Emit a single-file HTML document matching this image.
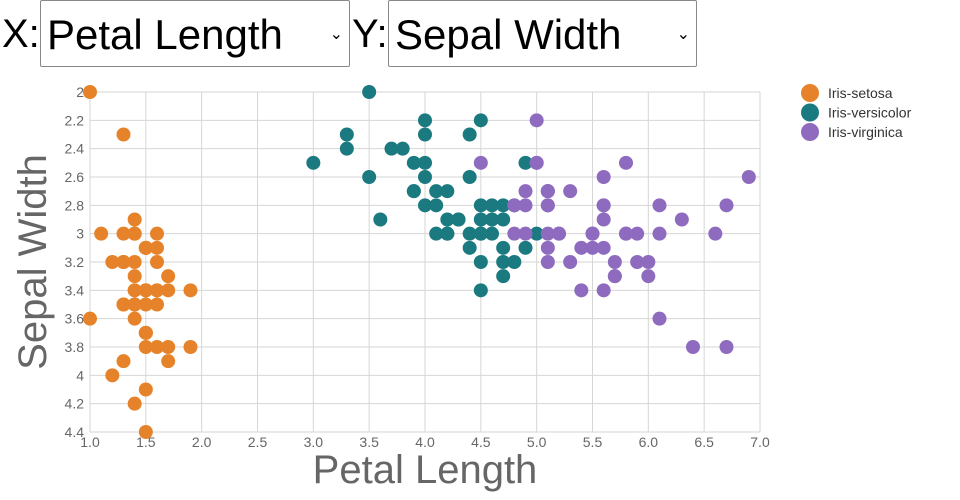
<!DOCTYPE html>
<html><head><meta charset="utf-8"><style>
body{margin:0;width:960px;height:500px;overflow:hidden;background:#fff;font-family:"Liberation Sans",sans-serif;}
.hdr{position:absolute;top:0;left:0;height:70px;}
.lab{position:absolute;font-size:40px;top:12px;color:#000}
.sel{position:absolute;top:0;height:67px;border:1px solid #888;border-radius:2px;background:#fff;font-size:42px;line-height:67px;padding-left:6px;box-sizing:border-box;}
.sel span.arr{position:absolute;right:6px;top:0;font-size:16px;}
</style></head><body>
<div class="lab" style="left:2px">X:</div>
<div class="sel" style="left:40px;width:310px">Petal Length<span class="arr">⌄</span></div>
<div class="lab" style="left:352px">Y:</div>
<div class="sel" style="left:388px;width:309px">Sepal Width<span class="arr">⌄</span></div>
<svg id="c" width="960" height="500" style="position:absolute;top:0;left:0"></svg>
<script>
const xTicks=[1.0,1.5,2.0,2.5,3.0,3.5,4.0,4.5,5.0,5.5,6.0,6.5,7.0];
const yTicks=[2,2.2,2.4,2.6,2.8,3,3.2,3.4,3.6,3.8,4,4.2,4.4];
const species=["Iris-setosa","Iris-versicolor","Iris-virginica"];
const colors=["#e6832a","#1b7a80","#8e6bbf"];
const setosaPL=[1.0,1.4,1.4,1.3,1.5,1.4,1.7,1.4,1.5,1.4,1.5,1.5,1.6,1.4,1.1,1.2,1.5,1.3,1.4,1.7,1.5,1.7,1.5,1.0,1.7,1.9,1.6,1.6,1.5,1.4,1.6,1.6,1.5,1.5,1.4,1.5,1.2,1.3,1.5,1.3,1.5,1.3,1.3,1.3,1.6,1.9,1.4,1.6,1.4,1.5,1.4];
const setosaSW=[2.0,3.5,3.0,3.2,3.1,3.6,3.9,3.4,3.4,2.9,3.1,3.7,3.4,3.0,3.0,4.0,4.4,3.9,3.5,3.8,3.8,3.4,3.7,3.6,3.3,3.4,3.0,3.4,3.5,3.4,3.2,3.1,3.4,4.1,4.2,3.1,3.2,3.5,3.1,3.0,3.4,3.5,2.3,3.2,3.5,3.8,3.0,3.8,3.2,3.7,3.3];
const versiPL=[4.7,4.5,4.9,4.0,4.6,4.5,4.7,3.3,4.6,3.9,3.5,4.2,4.0,4.7,3.6,4.4,4.5,4.1,4.5,3.9,4.8,4.0,4.9,4.7,4.3,4.4,4.8,5.0,4.5,3.5,3.8,3.7,3.9,5.1,4.5,4.5,4.7,4.4,4.1,4.0,4.4,4.6,4.0,3.3,4.2,4.2,4.2,4.3,3.0,4.1];
const versiSW=[3.2,3.2,3.1,2.3,2.8,2.8,3.3,2.4,2.9,2.7,2.0,3.0,2.2,2.9,2.9,3.1,3.0,2.7,2.2,2.5,3.2,2.8,2.5,2.8,2.9,3.0,2.8,3.0,2.9,2.6,2.4,2.4,2.7,2.7,3.0,3.4,3.1,2.3,3.0,2.5,2.6,3.0,2.6,2.3,2.7,3.0,2.9,2.9,2.5,2.8];
const virgPL=[6.0,5.1,5.9,5.6,5.8,6.6,4.5,6.3,5.8,6.1,5.1,5.3,5.5,5.0,5.1,5.3,5.5,6.7,6.9,5.0,5.7,4.9,6.7,4.9,5.7,6.0,4.8,4.9,5.6,5.8,6.1,6.4,5.6,5.1,5.6,6.1,5.6,5.5,4.8,5.4,5.6,5.1,5.1,5.9,5.7,5.2,5.0,5.2,5.4,5.1];
const virgSW=[3.3,2.7,3.0,2.9,3.0,3.0,2.5,2.9,2.5,3.6,3.2,2.7,3.0,2.5,2.8,3.2,3.0,3.8,2.6,2.2,3.2,2.8,2.8,2.7,3.3,3.2,2.8,3.0,2.8,3.0,2.8,3.8,2.8,2.8,2.6,3.0,3.4,3.1,3.0,3.1,3.1,3.1,2.7,3.2,3.3,3.0,2.5,3.0,3.4,3.0];
const NS="http://www.w3.org/2000/svg",svg=document.getElementById('c');
const X0=90,X1=760,Y0=92,Y1=432;
const xs=v=>X0+(v-1)/(7-1)*(X1-X0);
const ys=v=>Y0+(v-2)/(4.4-2)*(Y1-Y0);
function mk(t,a,txt){const e=document.createElementNS(NS,t);for(const k in a)e.setAttribute(k,a[k]);if(txt!=null)e.textContent=txt;svg.appendChild(e);return e;}
xTicks.forEach(t=>{
 const l=mk('line',{x1:xs(t),x2:xs(t),y1:Y0,y2:Y1,stroke:'#d6d6d6'});
 
 
 const s=mk('text',{x:xs(t),y:Y1+15,'text-anchor':'middle','font-size':14,fill:'#666'},t.toFixed(1));
 
 
});
yTicks.forEach(t=>{
 const l=mk('line',{x1:X0,x2:X1,y1:ys(t),y2:ys(t),stroke:'#d6d6d6'});
 
 
 const s=mk('text',{x:X0-6,y:ys(t)+5,'text-anchor':'end','font-size':14,fill:'#666'},String(t));
 
 
});
const series=[[setosaPL,setosaSW],[versiPL,versiSW],[virgPL,virgSW]];
series.forEach((s,i)=>{s[0].forEach((v,j)=>{
 const c=mk('circle',{cx:xs(v),cy:ys(s[1][j]),r:7,fill:colors[i]});
 
 
});});
species.forEach((n,i)=>{
 const c=mk('circle',{cx:810,cy:93+i*19.5,r:9,fill:colors[i]});
 
 
 const t=mk('text',{x:828,y:98+i*19.5,'font-size':14,fill:'#333'},n);
 
 
});
const xt=mk('text',{x:425,y:483,'text-anchor':'middle','font-size':40,fill:'#666'},'Petal Length');


const yt=mk('text',{x:0,y:0,'text-anchor':'middle','font-size':40,fill:'#666',transform:'translate(46,262) rotate(-90)'},'Sepal Width');


</script>
</body></html>
